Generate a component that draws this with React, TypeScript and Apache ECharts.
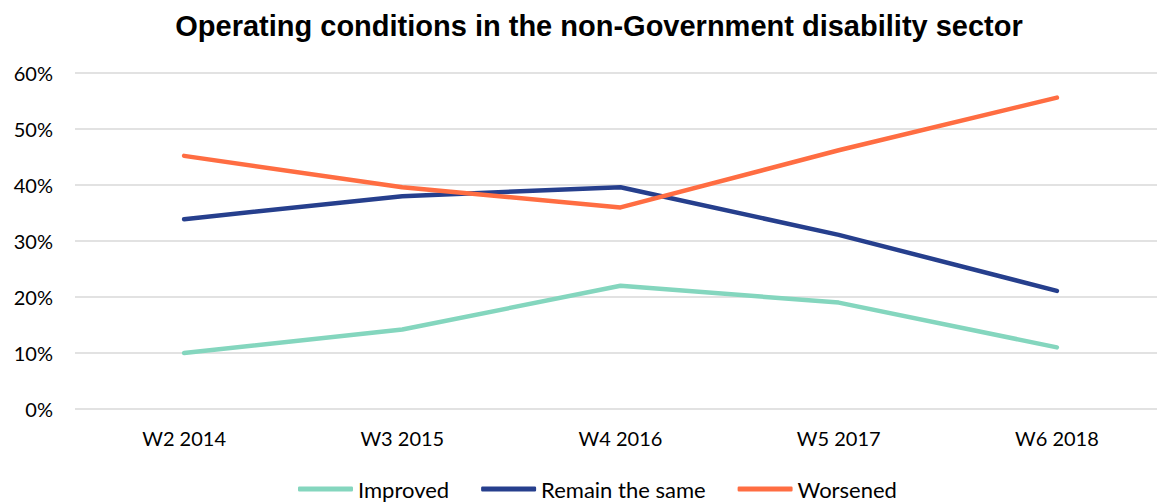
import React, { useEffect, useRef } from "react";
import * as echarts from "echarts";

const categories = ["W2 2014", "W3 2015", "W4 2016", "W5 2017", "W6 2018"];
const improved = [10, 14.2, 22, 19, 11];
const remainSame = [33.9, 38, 39.6, 31.1, 21.1];
const worsened = [45.2, 39.6, 36, 46.2, 55.6];
const yTicks = [0, 10, 20, 30, 40, 50, 60];

const FONT = "Lato";

export default function App() {
  const ref = useRef<HTMLDivElement>(null);
  useEffect(() => {
    if (!ref.current) return;
    const chart = echarts.init(ref.current, null, { renderer: "svg" });
    const mk = (name: string, data: number[], color: string) => ({
      name,
      type: "line",
      data,
      symbol: "none",
      lineStyle: { color, width: 4.5, cap: "round", join: "round" },
      itemStyle: { color },
    });
    chart.setOption({
      animation: false,
      title: {
        text: "Operating conditions in the non-Government disability sector",
        left: 594,
        textAlign: "center",
        top: 6,
        textStyle: {
          fontFamily: "Liberation Sans",
          fontWeight: "bold",
          fontSize: 29,
          color: "#000",
        },
      },
      legend: {
        bottom: -1,
        left: 293,
        itemWidth: 55,
        itemHeight: 5,
        itemGap: 32,
        icon: "roundRect",
        textStyle: { fontFamily: FONT, fontSize: 22, color: "#000" },
        data: ["Improved", "Remain the same", "Worsened"],
      },
      grid: { left: 75, right: 4, top: 73, bottom: 95, containLabel: false },
      xAxis: {
        type: "category",
        data: categories,
        boundaryGap: true,
        axisLine: { show: false },
        axisTick: { show: false },
        axisLabel: { fontFamily: FONT, fontSize: 20, color: "#000", margin: 19 },
      },
      yAxis: {
        type: "value",
        min: yTicks[0],
        max: yTicks[yTicks.length - 1],
        interval: 10,
        axisLine: { show: false },
        axisTick: { show: false },
        axisLabel: {
          fontFamily: FONT,
          fontSize: 20,
          color: "#000",
          margin: 22,
          formatter: (v: number) => `${v}%`,
        },
        splitLine: { lineStyle: { color: "#D9D9D9", width: 1.5 } },
      },
      series: [
        mk("Improved", improved, "#84D6BE"),
        mk("Remain the same", remainSame, "#263F8D"),
        mk("Worsened", worsened, "#FF6D42"),
      ],
    });
    return () => chart.dispose();
  }, []);
  return (
    <div style={{ position: "absolute", left: 0, top: 0, width: 1157, height: 504, overflow: "hidden", background: "#fff" }}>
      <div ref={ref} style={{ width: 1170, height: 504 }} />
    </div>
  );
}
